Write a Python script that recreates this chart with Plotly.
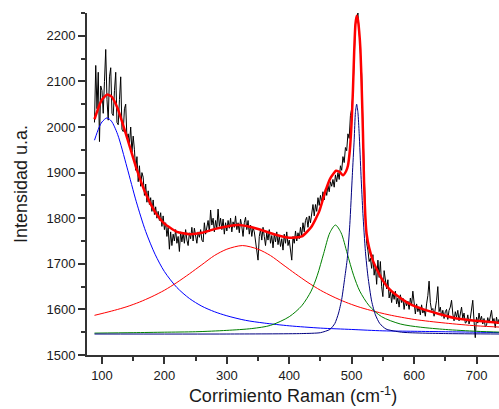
import plotly.graph_objects as go

# Raman shift grid of the measured spectrum (cm-1)
raman_shift = list(range(88, 741, 2))

intensity = [
    2010, 2135, 2040, 2120, 1968, 2090, 2080, 2030, 2100, 2170,
    2060, 2015, 2110, 2130, 2030, 2025, 2080, 2120, 2010, 2005,
    2060, 2110, 1995, 1990, 2040, 2050, 1975, 1985, 1962, 2000,
    1945, 1980,
    1950, 1905, 1935, 1880, 1915, 1870, 1900, 1890, 1850, 1875,
    1835, 1860, 1830, 1845, 1815, 1840, 1808, 1825, 1800, 1815,
    1795, 1812, 1782, 1805, 1775, 1790, 1760, 1780, 1732, 1770,
    1740, 1765, 1750, 1775, 1745,
    1760, 1727, 1770, 1748, 1768, 1745, 1775, 1752, 1740, 1768,
    1755, 1780, 1750, 1778, 1760, 1745, 1770, 1758, 1775, 1752,
    1748, 1790, 1765, 1780, 1795, 1770, 1818, 1785, 1800, 1770,
    1795, 1778, 1820, 1782, 1800, 1775, 1798, 1765, 1790, 1772,
    1795, 1778, 1800, 1770, 1792, 1780, 1805, 1775, 1790, 1768,
    1798, 1782, 1760, 1790, 1802, 1775, 1795, 1765, 1785, 1760,
    1780, 1770, 1750, 1735, 1708, 1760, 1775, 1752, 1780, 1760,
    1740, 1768, 1752, 1775, 1745, 1762, 1735, 1765, 1748, 1770,
    1742, 1760, 1738, 1755, 1730, 1765, 1745, 1770, 1740, 1752,
    1725, 1708, 1760, 1745, 1772, 1750, 1768, 1755, 1780, 1762,
    1790, 1770, 1795, 1802, 1780, 1805, 1790, 1815, 1830, 1805,
    1830, 1815, 1845, 1828, 1850, 1835, 1858, 1840, 1865, 1850,
    1872, 1858, 1880, 1870, 1885, 1868, 1895, 1880, 1900, 1885,
    1915, 1905, 1935, 1922, 1955, 1948, 1985, 1975, 2025, 2040,
    2075, 2150, 2225, 2235, 2250, 2210, 2170, 2115, 2000, 1880,
    1810, 1745, 1730, 1705, 1712,
    1690, 1720, 1675, 1695, 1655, 1708, 1670, 1705, 1650, 1628,
    1685, 1660, 1645, 1665, 1625, 1640, 1615, 1638, 1622, 1640,
    1612, 1625, 1605, 1632, 1615, 1625, 1600, 1620, 1608, 1618,
    1600, 1625, 1610, 1640, 1605,
    1590, 1612, 1595, 1605, 1588, 1610, 1592, 1600, 1585, 1612,
    1630, 1662, 1615, 1598, 1602, 1585, 1600, 1620, 1650, 1595,
    1605, 1585, 1598, 1580, 1595, 1600, 1578, 1598, 1605, 1620,
    1590, 1575, 1595, 1583, 1598, 1575, 1590, 1605, 1580, 1592,
    1570, 1572, 1588, 1568, 1580, 1598, 1620, 1575, 1538, 1583,
    1570, 1592, 1575, 1585, 1568, 1580, 1562, 1565, 1582, 1570,
    1590, 1598, 1572, 1580, 1560, 1583, 1568, 1578, 1565, 1575,
]

# Cumulative fit (thick red)
fit_x = [88, 95, 100, 108, 115, 125, 140, 155, 170, 185, 200, 220, 240, 260,
         280, 300, 320, 340, 360, 380, 400, 420, 435, 448, 458, 466, 475, 481,
         486, 491, 494, 497, 500, 502, 504, 506, 508, 510, 512, 514, 516, 518,
         520, 522, 524, 528, 534, 542, 550, 560, 572, 593, 615, 640, 668, 700, 740]
fit_y = [2017, 2045, 2060, 2071, 2067, 2041, 1977, 1910, 1854, 1814, 1788, 1770,
         1765, 1768, 1776, 1782, 1785, 1780, 1772, 1763, 1757, 1760, 1780, 1815,
         1860, 1888, 1904, 1901, 1894, 1903, 1915, 1948, 2014, 2080, 2165, 2225,
         2244, 2235, 2210, 2170, 2090, 1990, 1870, 1800, 1765, 1735, 1707, 1683,
         1663, 1645, 1631, 1612, 1600, 1590, 1580, 1575, 1570]

# Component 1 (blue, ~108 cm-1)
blue_x = [88, 95, 100, 108, 115, 125, 140, 155, 170, 185, 200, 220, 240, 260,
          280, 300, 330, 360, 400, 450, 500, 550, 600, 650, 700, 740]
blue_y = [1971, 1998, 2011, 2020, 2013, 1984, 1912, 1836, 1771, 1721, 1683, 1648,
          1624, 1607, 1595, 1586, 1576, 1570, 1564, 1559, 1556, 1553, 1552, 1551,
          1550, 1549]

# Component 2 (red thin, ~325 cm-1)
red_x = [88, 100, 120, 140, 160, 180, 200, 220, 240, 260, 280, 300, 325, 350,
         370, 390, 410, 430, 450, 470, 490, 510, 530, 560, 600, 650, 700, 740]
red_y = [1587, 1591, 1598, 1606, 1616, 1628, 1642, 1659, 1678, 1698, 1718, 1732,
         1740, 1732, 1718, 1698, 1678, 1659, 1642, 1628, 1616, 1606, 1598, 1588,
         1578, 1570, 1564, 1561]

# Component 3 (green, ~474 cm-1)
green_x = [88, 150, 200, 250, 300, 340, 370, 400, 420, 435, 445, 455, 465, 474,
           483, 493, 503, 513, 528, 548, 578, 610, 650, 700, 740]
green_y = [1548, 1549, 1550, 1551, 1554, 1558, 1565, 1584, 1608, 1640, 1675, 1722,
           1768, 1785, 1768, 1722, 1675, 1640, 1608, 1584, 1568, 1561, 1556, 1552,
           1550]

# Component 4 (navy, ~508 cm-1)
navy_x = [88, 300, 420, 450, 465, 473, 479, 484, 489, 493, 497, 501, 504, 506,
          508, 510, 512, 515, 518, 522, 526, 532, 538, 545, 555, 580, 650, 740]
navy_y = [1546, 1546, 1547, 1549, 1556, 1569, 1592, 1622, 1670, 1712, 1786, 1893,
          1972, 2032, 2050, 2032, 1986, 1893, 1810, 1727, 1673, 1618, 1588, 1569,
          1557, 1550, 1547, 1546]

fig = go.Figure()
fig.add_trace(go.Scatter(x=raman_shift, y=intensity, mode="lines",
                         line=dict(color="black", width=1)))
fig.add_trace(go.Scatter(x=blue_x, y=blue_y, mode="lines",
                         line=dict(color="#0000ff", width=1, shape="spline", smoothing=0.8)))
fig.add_trace(go.Scatter(x=red_x, y=red_y, mode="lines",
                         line=dict(color="#ff0000", width=1, shape="spline", smoothing=0.8)))
fig.add_trace(go.Scatter(x=green_x, y=green_y, mode="lines",
                         line=dict(color="#008000", width=1, shape="spline", smoothing=0.8)))
fig.add_trace(go.Scatter(x=navy_x, y=navy_y, mode="lines",
                         line=dict(color="#000080", width=1, shape="spline", smoothing=0.6)))
fig.add_trace(go.Scatter(x=fit_x, y=fit_y, mode="lines",
                         line=dict(color="#ff0000", width=2.5, shape="spline", smoothing=0.5)))

axis_color = "#333333"
fig.update_layout(
    width=499, height=409,
    margin=dict(l=87, r=0, t=13, b=54),
    showlegend=False,
    plot_bgcolor="white", paper_bgcolor="white",
    font=dict(family="Arial, Liberation Sans, sans-serif", size=13, color="#1a1a1a"),
)
fig.update_xaxes(
    range=[76, 736], tickmode="linear", tick0=100, dtick=100,
    ticks="outside", ticklen=7, tickwidth=1.5, tickcolor=axis_color,
    showline=True, linewidth=2, linecolor=axis_color,
    showgrid=False, zeroline=False,
    minor=dict(ticks="outside", ticklen=4, tickwidth=1.5, tickcolor=axis_color,
               tick0=50, dtick=50, showgrid=False),
    title=dict(text="Corrimiento Raman (cm<sup>-1</sup>)", font=dict(size=18), standoff=8),
)
fig.update_yaxes(
    range=[1500, 2250], tickmode="linear", tick0=1500, dtick=100,
    ticks="outside", ticklen=7, tickwidth=1.5, tickcolor=axis_color,
    showline=True, linewidth=2, linecolor=axis_color,
    showgrid=False, zeroline=False,
    minor=dict(ticks="outside", ticklen=4, tickwidth=1.5, tickcolor=axis_color,
               tick0=1500, dtick=50, showgrid=False),
    title=dict(text="Intensidad u.a.", font=dict(size=18), standoff=14),
)

fig.write_html("out.html")
